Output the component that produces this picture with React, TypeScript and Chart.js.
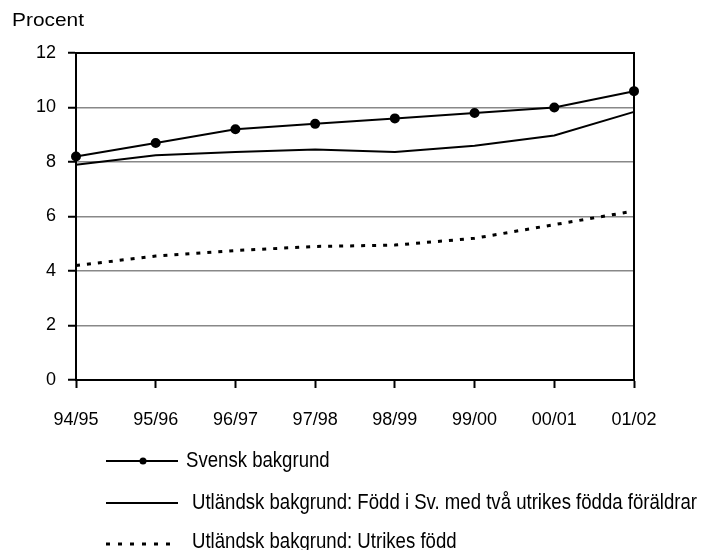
import React, { useEffect, useRef } from "react";
import { Chart, registerables } from "chart.js";

Chart.register(...registerables);

const categories = ["94/95", "95/96", "96/97", "97/98", "98/99", "99/00", "00/01", "01/02"];
const svensk = [8.2, 8.7, 9.2, 9.4, 9.6, 9.8, 10.0, 10.6];
const foddISv = [7.9, 8.25, 8.37, 8.46, 8.37, 8.6, 8.97, 9.84];
const utrikesFodd = [4.2, 4.55, 4.75, 4.9, 4.95, 5.2, 5.7, 6.2];
const seriesNames = [
  "Svensk bakgrund",
  "Utländsk bakgrund: Född i Sv. med två utrikes födda föräldrar",
  "Utländsk bakgrund: Utrikes född",
];
const yTitle = "Procent";

const FONT = "'Liberation Sans', Arial, sans-serif";

const overlayPlugin = {
  id: "overlay",
  afterDraw(chart: any) {
    const ctx = chart.ctx;
    const a = chart.chartArea;
    ctx.save();
    // top and right border
    ctx.strokeStyle = "#000";
    ctx.lineWidth = 2;
    ctx.beginPath();
    ctx.moveTo(a.left, a.top);
    ctx.lineTo(a.right, a.top);
    ctx.lineTo(a.right, a.bottom);
    ctx.stroke();
    // y title
    ctx.fillStyle = "#000";
    ctx.textBaseline = "middle";
    ctx.textAlign = "left";
    ctx.save();
    ctx.translate(12, 21);
    ctx.scale(1.1, 1);
    ctx.font = `19px ${FONT}`;
    ctx.fillText(yTitle, 0, 0);
    ctx.restore();
    // legend
    const items = [
      { y: 461, tx: 186, dash: [] as number[], w: 2, marker: true },
      { y: 503, tx: 192, dash: [] as number[], w: 2, marker: false },
      { y: 544, tx: 192, dash: [4, 8], w: 3, marker: false },
    ];
    items.forEach((it, i) => {
      ctx.strokeStyle = "#000";
      ctx.lineWidth = it.w;
      ctx.setLineDash(it.dash);
      ctx.beginPath();
      ctx.moveTo(106, it.y);
      ctx.lineTo(178, it.y);
      ctx.stroke();
      ctx.setLineDash([]);
      if (it.marker) {
        ctx.beginPath();
        ctx.arc(143, it.y, 3.5, 0, Math.PI * 2);
        ctx.fill();
      }
      ctx.save();
      ctx.translate(it.tx, it.y - (i === 2 ? 2 : 0));
      ctx.scale(1, 1.22);
      ctx.font = `18.6px ${FONT}`;
      ctx.fillText(seriesNames[i], 0, 0);
      ctx.restore();
    });
    ctx.restore();
  },
};

export default function App() {
  const ref = useRef<HTMLCanvasElement>(null);
  useEffect(() => {
    document.body.style.margin = "0";
    if (!ref.current) return;
    const chart = new Chart(ref.current, {
      type: "line",
      data: {
        labels: categories,
        datasets: [
          {
            label: seriesNames[0],
            data: svensk,
            borderColor: "#000",
            backgroundColor: "#000",
            borderWidth: 2,
            pointRadius: 4,
            pointBackgroundColor: "#000",
            pointBorderColor: "#000",
            tension: 0,
            clip: false,
          },
          {
            label: seriesNames[1],
            data: foddISv,
            borderColor: "#000",
            borderWidth: 2,
            pointRadius: 0,
            tension: 0,
            clip: false,
          },
          {
            label: seriesNames[2],
            data: utrikesFodd,
            borderColor: "#000",
            borderWidth: 3,
            borderDash: [4, 7],
            pointRadius: 0,
            tension: 0,
            clip: false,
          },
        ],
      },
      options: {
        animation: false,
        responsive: false,
        layout: { padding: { top: 53, right: 70, bottom: 120, left: 0 } },
        plugins: { legend: { display: false }, tooltip: { enabled: false } },
        scales: {
          x: {
            offset: false,
            grid: {
              drawOnChartArea: false,
              drawTicks: true,
              tickLength: 8,
              tickColor: "#000",
              tickWidth: 2,
            },
            border: { color: "#000", width: 2 },
            ticks: { color: "#000", font: { family: FONT, size: 18 }, padding: 21, maxRotation: 0, autoSkip: false },
            afterFit: (s: any) => {
              s.height = 50;
            },
          },
          y: {
            min: 0,
            max: 12,
            grid: {
              color: "#888",
              lineWidth: 1.5,
              tickColor: "#000",
              tickLength: 8,
              tickWidth: 2,
            },
            border: { color: "#000", width: 2 },
            ticks: { stepSize: 2, color: "#000", font: { family: FONT, size: 18 }, padding: 12 },
            afterFit: (s: any) => {
              s.width = 76;
            },
          },
        },
      },
      plugins: [overlayPlugin],
    });
    return () => chart.destroy();
  }, []);
  return <canvas ref={ref} width={704} height={550} style={{ display: "block" }} />;
}
